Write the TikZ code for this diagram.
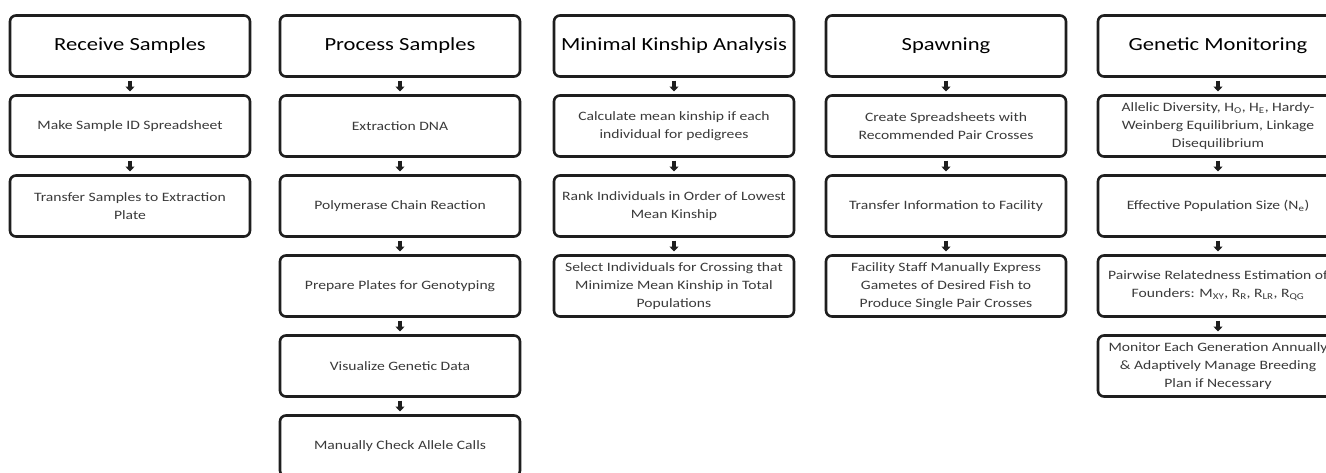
\documentclass[tikz,border=0pt]{standalone}
\usepackage{fontspec}
\setmainfont{Carlito}[FakeStretch=1.22]
\newcommand*{\titlefont}{\fontsize{18.5}{22}\selectfont}
\newcommand*{\stepfont}{\fontsize{12.8}{18}\selectfont}
\definecolor{ink}{HTML}{1E1E1E}
\definecolor{steptext}{HTML}{3A3A3A}
\usetikzlibrary{arrows.meta}
\usetikzlibrary{positioning}
\tikzstyle{base}=[x=1pt, y=-1pt, inner sep=0pt, outer sep=0pt]
\tikzstyle{box}=[draw=ink, line width=2.6pt, rounded corners=6pt, fill=white,
    minimum width=240pt, minimum height=61pt, align=center]
\tikzstyle{headbox}=[box, font=\titlefont, text=black]
\tikzstyle{stepbox}=[box, font=\stepfont, text=steptext]
\tikzstyle{flow}=[ink, line width=3.6pt, shorten >=4pt, shorten <=4pt,
    -{Triangle[width=9pt,length=5pt]}]

\begin{document}
\begin{tikzpicture}[base]
    \path [use as bounding box] (0,0) rectangle (1326,472);
    \clip (0,0) rectangle (1326,472);
    \fill [white] (0,0) rectangle (1326,472);
        % receive samples
        \node [headbox] (recv)  at (130,46)  {Receive Samples};
        \node [stepbox] (recv1) at (130,126) {Make Sample ID Spreadsheet};
        \node [stepbox] (recv2) at (130,206) {Transfer Samples to Extraction\\Plate};
        % process samples
        \node [headbox] (proc)  at (400,46)  {Process Samples};
        \node [stepbox] (proc1) at (400,126) {Extraction DNA};
        \node [stepbox] (proc2) at (400,206) {Polymerase Chain Reaction};
        \node [stepbox] (proc3) at (400,286) {Prepare Plates for Genotyping};
        \node [stepbox] (proc4) at (400,366) {Visualize Genetic Data};
        \node [stepbox] (proc5) at (400,446) {Manually Check Allele Calls};
        % minimal kinship analysis
        \node [headbox] (kin)  at (674,46)  {Minimal Kinship Analysis};
        \node [stepbox] (kin1) at (674,126) {Calculate mean kinship if each\\individual for pedigrees};
        \node [stepbox] (kin2) at (674,206) {Rank Individuals in Order of Lowest\\Mean Kinship};
        \node [stepbox] (kin3) at (674,286) {Select Individuals for Crossing that\\Minimize Mean Kinship in Total\\Populations};
        % spawning
        \node [headbox] (spawn)  at (946,46)  {Spawning};
        \node [stepbox] (spawn1) at (946,126) {Create Spreadsheets with\\Recommended Pair Crosses};
        \node [stepbox] (spawn2) at (946,206) {Transfer Information to Facility};
        \node [stepbox] (spawn3) at (946,286) {Facility Staff Manually Express\\Gametes of Desired Fish to\\Produce Single Pair Crosses};
        % genetic monitoring
        \node [headbox] (gen)  at (1218,46)  {Genetic Monitoring};
        \node [stepbox] (gen1) at (1218,126) {Allelic Diversity, H\textsubscript{O}, H\textsubscript{E}, Hardy-\\Weinberg Equilibrium, Linkage\\Disequilibrium};
        \node [stepbox] (gen2) at (1218,206) {Effective Population Size (N\textsubscript{e})};
        \node [stepbox] (gen3) at (1218,286) {Pairwise Relatedness Estimation of\\Founders: M\textsubscript{XY}, R\textsubscript{R}, R\textsubscript{LR}, R\textsubscript{QG}};
        \node [stepbox] (gen4) at (1218,366) {Monitor Each Generation Annually\\\& Adaptively Manage Breeding\\Plan if Necessary};
        % arrows
        \draw [flow] (recv) -- (recv1);
        \draw [flow] (recv1) -- (recv2);
        \draw [flow] (proc) -- (proc1);
        \draw [flow] (proc1) -- (proc2);
        \draw [flow] (proc2) -- (proc3);
        \draw [flow] (proc3) -- (proc4);
        \draw [flow] (proc4) -- (proc5);
        \draw [flow] (kin) -- (kin1);
        \draw [flow] (kin1) -- (kin2);
        \draw [flow] (kin2) -- (kin3);
        \draw [flow] (spawn) -- (spawn1);
        \draw [flow] (spawn1) -- (spawn2);
        \draw [flow] (spawn2) -- (spawn3);
        \draw [flow] (gen) -- (gen1);
        \draw [flow] (gen1) -- (gen2);
        \draw [flow] (gen2) -- (gen3);
        \draw [flow] (gen3) -- (gen4);
    \end{tikzpicture}
\end{document}
